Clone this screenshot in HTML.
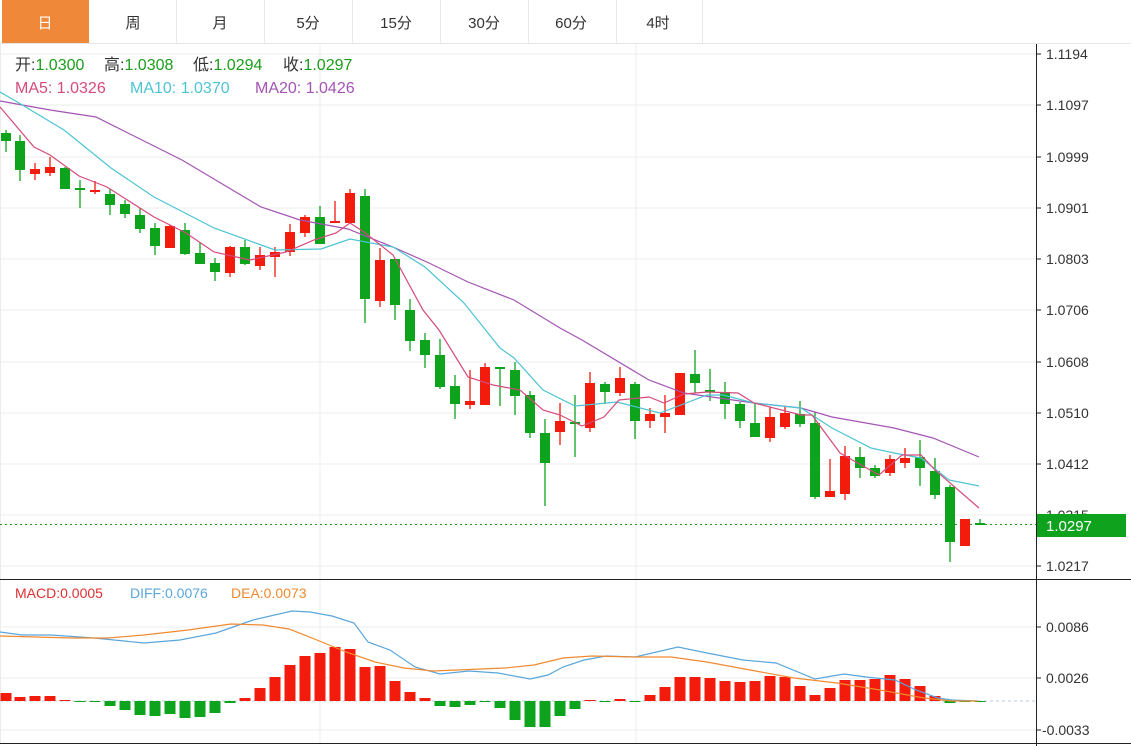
<!DOCTYPE html>
<html><head><meta charset="utf-8"><style>
body{margin:0;background:#fff;width:1131px;height:746px;overflow:hidden;font-family:"Liberation Sans","Noto Sans CJK SC",sans-serif}
svg{position:absolute;left:0;top:0}
</style></head><body>
<svg id="s" width="1131" height="746" xmlns="http://www.w3.org/2000/svg">
<rect x="0" y="0" width="1131" height="746" fill="#fff"/>
<line x1="0" y1="43.5" x2="1131" y2="43.5" stroke="#e6e6e6"/>
<rect x="2" y="0" width="87" height="43" fill="#f0883a"/>
<g stroke="#e8e8e8"><line x1="176.5" y1="0" x2="176.5" y2="43"/><line x1="264.5" y1="0" x2="264.5" y2="43"/><line x1="352.5" y1="0" x2="352.5" y2="43"/><line x1="440.5" y1="0" x2="440.5" y2="43"/><line x1="528.5" y1="0" x2="528.5" y2="43"/><line x1="616.5" y1="0" x2="616.5" y2="43"/><line x1="702.5" y1="0" x2="702.5" y2="43"/></g>
<g font-size="15" text-anchor="middle" fill="#333"><text x="45" y="28" fill="#fff">日</text><text x="133" y="28">周</text><text x="220" y="28">月</text><text x="308" y="28">5分</text><text x="396" y="28">15分</text><text x="484" y="28">30分</text><text x="571" y="28">60分</text><text x="658" y="28">4时</text></g>
<g stroke="#ececec"><line x1="0" y1="54" x2="1036" y2="54"/><line x1="0" y1="105" x2="1036" y2="105"/><line x1="0" y1="157" x2="1036" y2="157"/><line x1="0" y1="208" x2="1036" y2="208"/><line x1="0" y1="259" x2="1036" y2="259"/><line x1="0" y1="310" x2="1036" y2="310"/><line x1="0" y1="362" x2="1036" y2="362"/><line x1="0" y1="413" x2="1036" y2="413"/><line x1="0" y1="464" x2="1036" y2="464"/><line x1="0" y1="515" x2="1036" y2="515"/><line x1="0" y1="566" x2="1036" y2="566"/>
<line x1="0" y1="627" x2="1036" y2="627"/><line x1="0" y1="678" x2="1036" y2="678"/><line x1="0" y1="730" x2="1036" y2="730"/>
<line x1="320" y1="44" x2="320" y2="743"/><line x1="636" y1="44" x2="636" y2="743"/><line x1="0.5" y1="44" x2="0.5" y2="743"/></g>
<line x1="1036.5" y1="44" x2="1036.5" y2="746" stroke="#222"/>
<line x1="0" y1="579.5" x2="1131" y2="579.5" stroke="#222"/>
<line x1="0" y1="743.5" x2="1131" y2="743.5" stroke="#222"/>
<line x1="0" y1="701" x2="1036" y2="701" stroke="#b8cde0" stroke-dasharray="3,3"/>
<g stroke="#222"><line x1="1036" y1="54" x2="1041" y2="54"/><line x1="1036" y1="105" x2="1041" y2="105"/><line x1="1036" y1="157" x2="1041" y2="157"/><line x1="1036" y1="208" x2="1041" y2="208"/><line x1="1036" y1="259" x2="1041" y2="259"/><line x1="1036" y1="310" x2="1041" y2="310"/><line x1="1036" y1="362" x2="1041" y2="362"/><line x1="1036" y1="413" x2="1041" y2="413"/><line x1="1036" y1="464" x2="1041" y2="464"/><line x1="1036" y1="566" x2="1041" y2="566"/><line x1="1036" y1="627" x2="1041" y2="627"/><line x1="1036" y1="678" x2="1041" y2="678"/><line x1="1036" y1="730" x2="1041" y2="730"/></g>
<g font-size="14" fill="#333"><text x="1046" y="59">1.1194</text><text x="1046" y="110">1.1097</text><text x="1046" y="162">1.0999</text><text x="1046" y="213">1.0901</text><text x="1046" y="264">1.0803</text><text x="1046" y="315">1.0706</text><text x="1046" y="367">1.0608</text><text x="1046" y="418">1.0510</text><text x="1046" y="469">1.0412</text><text x="1046" y="520">1.0315</text><text x="1046" y="571">1.0217</text>
<text x="1046" y="632">0.0086</text><text x="1046" y="683">0.0026</text><text x="1042" y="735">-0.0033</text></g>
<line x1="0" y1="524.5" x2="1036" y2="524.5" stroke="#1a9e1a" stroke-dasharray="2,3"/>
<rect x="1037" y="514" width="89" height="23" fill="#0fa31d"/>
<text x="1046" y="531" font-size="15" fill="#fff">1.0297</text>
<g id="cd"></g><g id="mb"></g>
<g fill="none" stroke-width="1.2">
<polyline stroke="#a454b4" points="0,101 50,110 96,117 182,160 261,207 300,220 348,229 393,247 429,263 468,282 514,300 560,328 582,340 649,380 684,393 754,403 801,408 832,417 894,428 933,438 979,457"/>
<polyline stroke="#4cc4d4" points="0,92 14,100 64,130 111,168 154,197 214,228 275,250 321,249 350,239 393,247 425,267 464,303 500,348 514,358 543,390 575,406 617,402 660,413 707,395 723,395 754,403 801,408 832,428 871,448 894,453 921,458 949,480 979,486"/>
<polyline stroke="#d54a7c" points="0,107 34,147 50,155 79,176 107,187 154,217 186,233 214,252 250,260 286,252 314,240 336,233 350,223 364,232 393,255 423,310 439,330 468,377 493,385 520,390 543,410 560,415 582,426 604,417 619,400 649,397 664,403 684,394 707,392 738,393 754,403 801,415 812,415 840,453 879,475 902,455 921,455 935,470 979,508"/>
<polyline stroke="#5aa6dc" points="0,632 22,635 51,635 94,638 144,643 180,640 216,633 253,620 292,611 310,612 332,616 354,623 368,642 390,650 415,667 440,674 469,671 498,673 530,679 548,675 563,667 584,660 606,656 635,657 678,647 707,653 743,660 776,663 815,679 844,674 866,677 895,680 916,690 938,698 952,700 978,701"/>
<polyline stroke="#f08a30" points="0,636 72,638 108,638 144,635 188,630 231,624 263,625 289,629 317,640 346,652 375,662 404,668 433,671 505,668 534,665 563,658 592,656 635,657 671,657 707,662 750,670 794,678 837,683 880,690 924,698 952,701 978,701"/>
</g>
<g font-size="16">
<text x="15" y="70" fill="#333">开:<tspan fill="#1a9e1a">1.0300</tspan></text>
<text x="104" y="70" fill="#333">高:<tspan fill="#1a9e1a">1.0308</tspan></text>
<text x="193" y="70" fill="#333">低:<tspan fill="#1a9e1a">1.0294</tspan></text>
<text x="283" y="70" fill="#333">收:<tspan fill="#1a9e1a">1.0297</tspan></text>
<text x="15" y="93" fill="#d54a7c">MA5: 1.0326</text>
<text x="130" y="93" fill="#4cc4d4">MA10: 1.0370</text>
<text x="255" y="93" fill="#a454b4">MA20: 1.0426</text></g>
<g font-size="14"><text x="15" y="598" fill="#e03030">MACD:0.0005</text><text x="130" y="598" fill="#5aa6dc">DIFF:0.0076</text><text x="231" y="598" fill="#f08a30">DEA:0.0073</text></g>
</svg>
<script>
var R="#f21b0c",G="#0da31d",ns="http://www.w3.org/2000/svg";
var C=[[6,133,141,130,152,G],[20,141,170,135,181,G],[35,169,174,163,180,R],[50,167,173,157,176,R],[65,168,189,167,189,G],[80,188,190,180,208,G],[95,190,192,181,194,R],[110,194,205,189,215,G],[125,204,214,200,218,G],[140,215,229,208,233,G],[155,228,246,223,255,G],[170,226,248,225,248,R],[185,230,254,223,255,G],[200,253,264,242,264,G],[215,263,272,258,281,G],[230,247,273,246,277,R],[245,247,264,240,265,G],[260,255,266,247,270,R],[275,252,257,247,277,R],[290,232,252,224,256,R],[305,217,233,215,237,R],[320,217,244,206,244,G],[335,221,223,201,223,R],[350,193,223,189,223,R],[365,196,299,189,323,G],[380,260,301,248,307,R],[395,259,305,259,320,G],[410,310,341,299,351,G],[425,340,355,333,368,G],[440,355,387,339,389,G],[455,386,404,375,419,G],[470,401,405,370,409,R],[485,367,405,363,405,R],[500,367,369,367,406,G],[515,370,396,362,415,G],[530,395,433,391,438,G],[545,433,463,419,506,G],[560,421,432,403,445,R],[575,422,424,395,457,G],[590,383,428,372,432,R],[605,384,392,382,404,G],[620,378,393,367,396,R],[635,384,421,382,439,G],[650,414,421,408,428,R],[665,413,417,395,433,R],[680,373,415,373,415,R],[695,374,383,350,393,G],[710,390,392,369,401,G],[725,392,404,382,419,G],[740,404,421,402,428,G],[755,423,437,403,437,G],[770,417,438,407,442,R],[785,413,427,406,429,R],[800,414,424,401,427,G],[815,423,497,412,499,G],[830,491,497,459,497,R],[845,456,494,446,500,R],[860,457,468,447,478,G],[875,468,476,465,478,G],[890,459,473,455,476,R],[905,458,463,448,468,R],[920,457,468,440,486,G],[935,471,495,458,499,G],[950,487,542,485,562,G],[965,519,546,519,546,R],[980,523,525,519,525,G]];
var M=[693,697,696,696,700,702,702,706,710,715,716,714,718,717,713,703,698,688,677,665,656,653,647,649,667,666,681,692,698,706,707,705,702,708,720,727,727,716,709,700,702,699,702,695,687,677,677,678,681,682,681,676,677,686,695,688,680,680,679,675,679,686,696,703,702,702];
var cd=document.getElementById("cd"),mb=document.getElementById("mb");
function el(t,a,p){var e=document.createElementNS(ns,t);for(var k in a)e.setAttribute(k,a[k]);p.appendChild(e);}
C.forEach(function(c){el("line",{x1:c[0],x2:c[0],y1:c[3],y2:c[4],stroke:c[5],"stroke-width":1.3},cd);el("rect",{x:c[0]-5,y:c[1],width:10,height:Math.max(c[2]-c[1],1.5),fill:c[5]},cd);});
M.forEach(function(v,i){var x=C[i][0];var up=v<701;var y=up?v:701,h=Math.max(Math.abs(v-701),1);el("rect",{x:x-5.5,y:y,width:11,height:h,fill:up?R:G},mb);});
</script>
</body></html>
